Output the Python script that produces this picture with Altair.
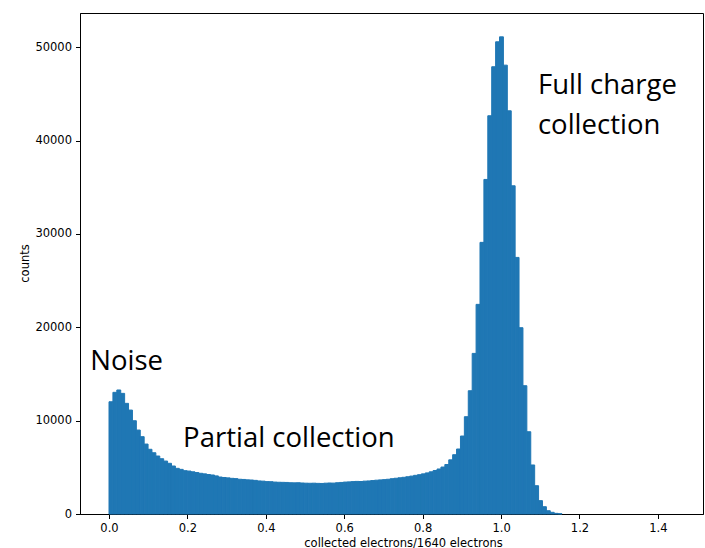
import altair as alt
import pandas as pd

# histogram: 150 bins from 0 to 1.494 (bin width 0.00996)
bin_width = 0.00996
counts = [
    12020, 13030, 13280, 12920, 11850, 11130, 9990, 8990, 8280, 7490,
    6930, 6560, 6210, 5920, 5670, 5430, 5140, 4890, 4780, 4640,
    4600, 4520, 4440, 4360, 4300, 4230, 4180, 4080, 3960, 3910,
    3870, 3820, 3790, 3720, 3700, 3660, 3640, 3600, 3540, 3520,
    3470, 3460, 3420, 3400, 3390, 3380, 3350, 3340, 3350, 3320,
    3300, 3290, 3300, 3280, 3270, 3300, 3320, 3310, 3350, 3380,
    3420, 3440, 3470, 3490, 3480, 3520, 3540, 3580, 3620, 3650,
    3680, 3720, 3780, 3830, 3880, 3930, 3990, 4060, 4140, 4210,
    4300, 4400, 4520, 4660, 4820, 5030, 5300, 5800, 6350, 6960,
    8350, 10420, 13200, 17200, 22450, 29090, 35830, 42650, 47900, 50570,
    51100, 48070, 43180, 35150, 27480, 19950, 13740, 8810, 5250, 3030,
    1430, 780, 350, 180, 70, 30, 0, 0, 0, 0,
    0, 0, 0, 0, 0, 0, 0, 0, 0, 0,
    0, 0, 0, 0, 0, 0, 0, 0, 0, 0,
    0, 0, 0, 0, 0, 0, 0, 0, 0, 0,
]
bin_start = [i * bin_width for i in range(len(counts))]
bin_end = [(i + 1) * bin_width for i in range(len(counts))]

x_ticks = [0.0, 0.2, 0.4, 0.6, 0.8, 1.0, 1.2, 1.4]
y_ticks = [0, 10000, 20000, 30000, 40000, 50000]

labels = ["Noise", "Partial collection", "Full charge", "collection"]
label_x = [-0.048, 0.189, 1.094, 1.094]
label_y = [16300, 8000, 45800, 41500]

hist = pd.DataFrame({"start": bin_start, "end": bin_end, "count": counts})
ann = pd.DataFrame({"text": labels, "x": label_x, "y": label_y})

xscale = alt.Scale(domain=[-0.074, 1.515], nice=False, zero=False)
yscale = alt.Scale(domain=[0, 53655], nice=False)

bars = alt.Chart(hist).mark_rect(
    color="#1f77b4", stroke="#1f77b4", strokeWidth=1
).encode(
    x=alt.X("start:Q", scale=xscale,
            axis=alt.Axis(values=x_ticks, format=".1f",
                          title="collected electrons/1640 electrons",
                          titleX=323, titleY=29, titleBaseline="middle",
                          titleAlign="center")),
    x2="end:Q",
    y=alt.Y("count:Q", scale=yscale,
            axis=alt.Axis(values=y_ticks, format="d", title="counts",
                          titleX=-50, titleY=250, titleAlign="center")),
    y2=alt.datum(0),
    strokeOpacity=alt.condition("datum.count > 0", alt.value(1), alt.value(0)),
)

text = alt.Chart(ann).mark_text(
    font="Open Sans", fontSize=27.5, align="left", baseline="middle", color="black"
).encode(
    x=alt.X("x:Q", scale=xscale),
    y=alt.Y("y:Q", scale=yscale),
    text="text:N",
)

chart = alt.layer(bars, text).properties(
    width=623, height=501,
    autosize=alt.AutoSizeParams(type="none"),
    padding={"left": 80, "top": 13, "right": 2, "bottom": 34},
    background="white",
).configure_view(
    stroke="black", strokeWidth=1
).configure_axis(
    grid=False, domainColor="black", domainWidth=1, tickColor="black",
    tickSize=4.5, tickWidth=1, labelFont="DejaVu Sans", labelFontSize=11.5,
    labelColor="black", titleFont="DejaVu Sans", titleFontSize=11.5,
    titleFontWeight="normal", titleColor="black", labelPadding=4,
)

chart.save("out.html", embed_options={"renderer": "svg", "actions": False})
